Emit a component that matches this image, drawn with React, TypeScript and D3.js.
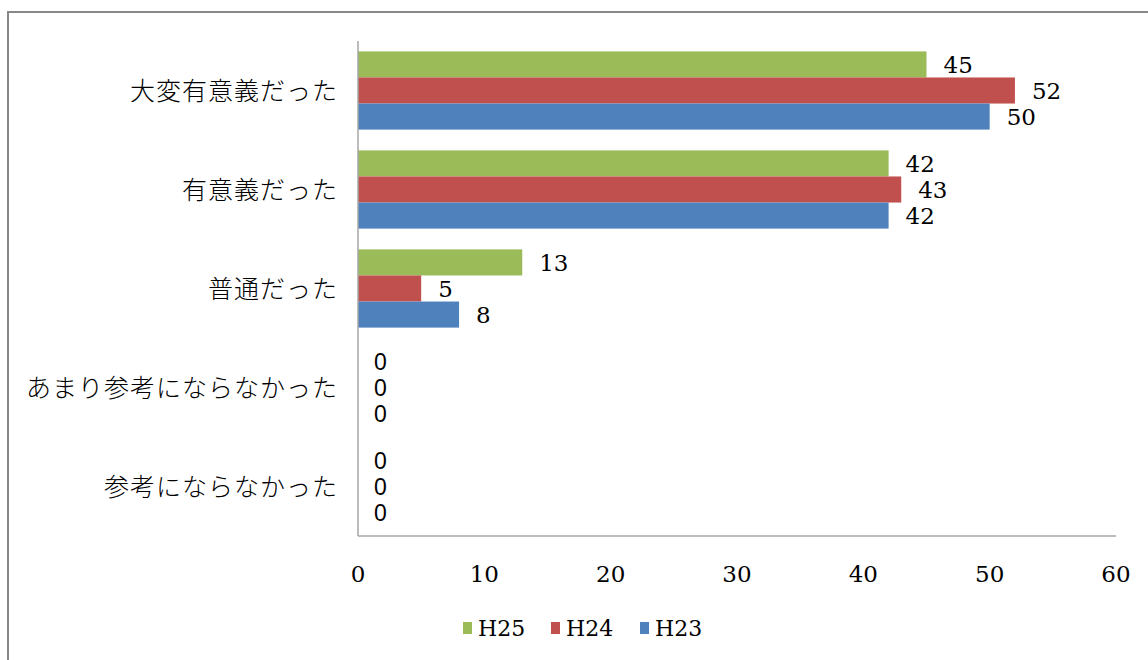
import React from "react";
import * as d3 from "d3";

const categories = [
  "大変有意義だった",
  "有意義だった",
  "普通だった",
  "あまり参考にならなかった",
  "参考にならなかった",
];
const seriesNames = ["H25", "H24", "H23"];
const h25 = [45, 42, 13, 0, 0];
const h24 = [52, 43, 5, 0, 0];
const h23 = [50, 42, 8, 0, 0];
const seriesColors = ["#9BBB59", "#C0504D", "#4F81BD"];
const xTicks = [0, 10, 20, 30, 40, 50, 60];

const W = 1148;
const H = 660;
const plot = { left: 358, right: 1116, top: 41, bottom: 536 };

const serif = "DejaVu Serif";
const sans = "Liberation Sans";
const jp = "Noto Sans CJK JP";

export default function App() {
  const series = [h25, h24, h23];
  const x = d3.scaleLinear().domain([0, 60]).range([plot.left, plot.right]);
  const y = d3
    .scaleBand<string>()
    .domain(categories)
    .range([plot.top, plot.bottom])
    .paddingInner(0.21)
    .paddingOuter(0.105);
  const inner = d3
    .scaleBand<string>()
    .domain(seriesNames)
    .range([0, y.bandwidth()]);

  const legendX = [463, 551, 640];
  const legendY = 628;

  return (
    <svg
      width={W}
      height={H}
      style={{ position: "absolute", left: 0, top: 0, background: "#fff" }}
    >
      <rect x={8} y={12} width={W + 20} height={H + 20} fill="#fff" stroke="#888" strokeWidth={2} />

      {/* bars */}
      {categories.map((c, ci) =>
        series.map((vals, si) => {
          const y0 = (y(c) ?? 0) + (inner(seriesNames[si]) ?? 0);
          const bh = inner.bandwidth();
          const v = vals[ci];
          return (
            <g key={`${ci}-${si}`}>
              {v > 0 && (
                <rect
                  x={x(0)}
                  y={y0}
                  width={x(v) - x(0)}
                  height={bh}
                  fill={seriesColors[si]}
                />
              )}
              <text
                x={x(v) + (v > 0 ? 17 : 16)}
                y={y0 + bh / 2}
                dy="0.36em"
                style={{ fontFamily: v > 0 ? serif : sans, fontSize: v > 0 ? 23 : 23 }}
                fill="#000"
              >
                {v}
              </text>
            </g>
          );
        })
      )}

      {/* axes */}
      <line x1={plot.left} x2={plot.left} y1={plot.top} y2={plot.bottom} stroke="#a6a6a6" strokeWidth={1.5} />
      <line x1={plot.left} x2={plot.right} y1={plot.bottom} y2={plot.bottom} stroke="#a6a6a6" strokeWidth={1.5} />

      {xTicks.map((t) => (
        <text
          key={t}
          x={x(t)}
          y={574}
          dy="0.36em"
          textAnchor="middle"
          style={{ fontFamily: serif, fontSize: 23 }}
          fill="#000"
        >
          {t}
        </text>
      ))}

      {categories.map((c) => (
        <text
          key={c}
          x={plot.left - 20}
          y={(y(c) ?? 0) + y.bandwidth() / 2}
          dy="0.36em"
          textAnchor="end"
          style={{ fontFamily: jp, fontSize: 25, fontWeight: 300, letterSpacing: 1 }}
          fill="#000"
        >
          {c}
        </text>
      ))}

      {/* legend */}
      {seriesNames.map((s, i) => (
        <g key={s}>
          <rect x={legendX[i]} y={legendY - 6} width={9} height={12} fill={seriesColors[i]} />
          <text
            x={legendX[i] + 15}
            y={legendY}
            dy="0.36em"
            style={{ fontFamily: serif, fontSize: 22 }}
            fill="#000"
          >
            {s}
          </text>
        </g>
      ))}
    </svg>
  );
}
